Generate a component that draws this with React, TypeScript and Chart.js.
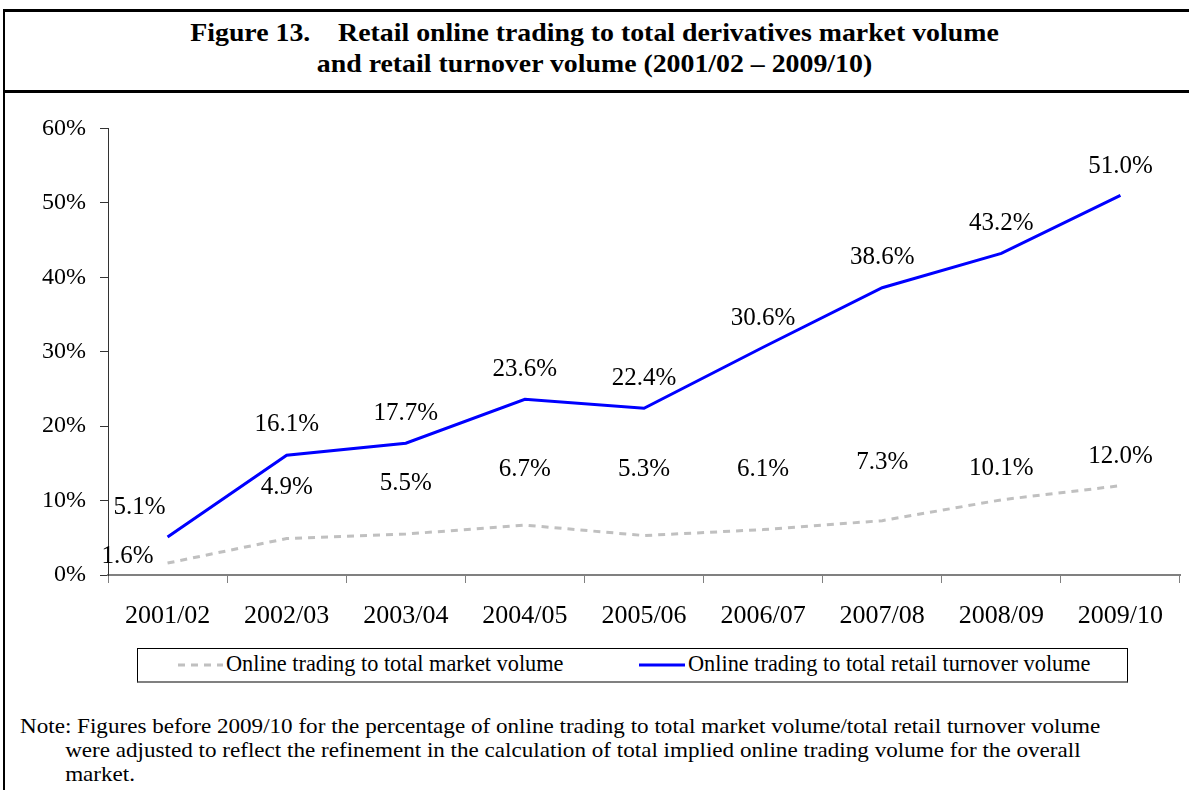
import React, { useEffect, useRef } from "react";
import { Chart, registerables } from "chart.js";

Chart.register(...registerables);

const categories = ["2001/02", "2002/03", "2003/04", "2004/05", "2005/06", "2006/07", "2007/08", "2008/09", "2009/10"];
const marketVolume = [1.6, 4.9, 5.5, 6.7, 5.3, 6.1, 7.3, 10.1, 12.0];
const retailVolume = [5.1, 16.1, 17.7, 23.6, 22.4, 30.6, 38.6, 43.2, 51.0];
const yTicks = [0, 10, 20, 30, 40, 50, 60];
const seriesNames = ["Online trading to total market volume", "Online trading to total retail turnover volume"];

const FONT = "Liberation Serif, Tinos, Times New Roman, serif";

// label offsets (dx, dy) in px relative to each point, per dataset
const labelOffsets: Record<number, [number, number][]> = {
  0: [[-40, -7], [0, -51], [0, -51], [0, -56], [0, -66], [0, -60], [0, -58], [0, -31], [0, -29]],
  1: [[-28, -30], [0, -31], [0, -30], [0, -30], [0, -30], [0, -29], [0, -30], [0, -30], [0, -29]],
};

const labelPlugin = {
  id: "pointLabels",
  afterDatasetsDraw(chart: any) {
    const ctx = chart.ctx;
    ctx.save();
    ctx.font = `25px ${FONT}`;
    ctx.fillStyle = "#000";
    ctx.textAlign = "center";
    ctx.textBaseline = "middle";
    chart.data.datasets.forEach((ds: any, di: number) => {
      const meta = chart.getDatasetMeta(di);
      meta.data.forEach((pt: any, i: number) => {
        const off = labelOffsets[di][i];
        ctx.fillText(ds.data[i].toFixed(1) + "%", pt.x + off[0], pt.y + off[1]);
      });
    });
    ctx.restore();
  },
};

export default function App() {
  const ref = useRef<HTMLCanvasElement>(null);
  useEffect(() => {
    const chart = new Chart(ref.current!, {
      type: "line",
      data: {
        labels: categories,
        datasets: [
          {
            label: seriesNames[0],
            data: marketVolume,
            borderColor: "#C0C0C0",
            borderWidth: 3,
            borderDash: [7, 6],
            pointRadius: 0,
            tension: 0,
            fill: false,
          },
          {
            label: seriesNames[1],
            data: retailVolume,
            borderColor: "#0000FF",
            borderWidth: 3,
            pointRadius: 0,
            tension: 0,
            fill: false,
          },
        ],
      },
      options: {
        animation: false,
        responsive: false,
        maintainAspectRatio: false,
        layout: { padding: { top: 27, right: 9, left: 0, bottom: 0 } },
        plugins: { legend: { display: false }, tooltip: { enabled: false }, title: { display: false } },
        scales: {
          x: {
            offset: true,
            grid: { offset: true, drawOnChartArea: false, drawTicks: true, tickLength: 8, color: "#808080" },
            border: { color: "#808080", width: 2 },
            ticks: { color: "#000", font: { family: FONT, size: 26 }, padding: 18, maxRotation: 0 },
            afterFit: (s: any) => { s.height = 65; },
          },
          y: {
            min: 0,
            max: 60,
            afterBuildTicks: (s: any) => { s.ticks = yTicks.map((v) => ({ value: v })); },
            grid: { drawOnChartArea: false, drawTicks: true, tickLength: 8, color: "#333333" },
            border: { color: "#333333", width: 1 },
            ticks: { color: "#000", font: { family: FONT, size: 24 }, padding: 14, callback: (v: any) => v + "%" },
            afterFit: (s: any) => { s.width = 108; },
          },
        },
      },
      plugins: [labelPlugin],
    });
    return () => chart.destroy();
  }, []);

  const textStyle: React.CSSProperties = { fontFamily: FONT, fontSize: 22.3, color: "#000", whiteSpace: "nowrap" };

  return (
    <div style={{ position: "absolute", left: 0, top: 0, width: 1189, height: 790, overflow: "hidden", background: "#fff", fontFamily: FONT }}>
      <div style={{ position: "absolute", left: 3, top: 9, width: 1300, height: 900, borderLeft: "2px solid #000", borderTop: "3px solid #000", boxSizing: "border-box" }} />
      <div style={{ position: "absolute", left: 3, top: 90, width: 1300, height: 3, background: "#000" }} />
      <div style={{ position: "absolute", left: 0, top: 17, width: 1189, textAlign: "center", fontFamily: FONT, fontWeight: "bold", fontSize: 26, lineHeight: "31px", whiteSpace: "nowrap", transform: "scaleX(1.07)", transformOrigin: "center" }}>
        Figure 13.&nbsp;&nbsp;&nbsp;&nbsp;Retail online trading to total derivatives market volume
        <br />
        and retail turnover volume (2001/02 – 2009/10)
      </div>
      <canvas ref={ref} width={1189} height={540} style={{ position: "absolute", left: 0, top: 100, width: 1189, height: 540 }} />
      <div style={{ position: "absolute", left: 137, top: 648, width: 991, height: 35, border: "1px solid #000", borderBottom: "2px solid #808080", boxSizing: "border-box" }}>
        <svg style={{ position: "absolute", left: 39, top: 14 }} width={46} height={4}>
          <line x1={1} y1={2} x2={46} y2={2} stroke="#C0C0C0" strokeWidth={3} strokeDasharray="7 6" />
        </svg>
        <div style={{ ...textStyle, position: "absolute", left: 88, top: 2 }}>{seriesNames[0]}</div>
        <svg style={{ position: "absolute", left: 501, top: 14 }} width={46} height={4}>
          <line x1={0} y1={2} x2={46} y2={2} stroke="#0000FF" strokeWidth={3} />
        </svg>
        <div style={{ ...textStyle, position: "absolute", left: 550, top: 2 }}>{seriesNames[1]}</div>
      </div>
      <div style={{ position: "absolute", left: 20, top: 714, width: 1160, fontFamily: FONT, fontSize: 22, lineHeight: "24px", whiteSpace: "nowrap", transform: "scaleX(1.05)", transformOrigin: "left" }}>
        <div>Note: Figures before 2009/10 for the percentage of online trading to total market volume/total retail turnover volume</div>
        <div style={{ paddingLeft: 43 }}>were adjusted to reflect the refinement in the calculation of total implied online trading volume for the overall</div>
        <div style={{ paddingLeft: 43 }}>market.</div>
      </div>
    </div>
  );
}
